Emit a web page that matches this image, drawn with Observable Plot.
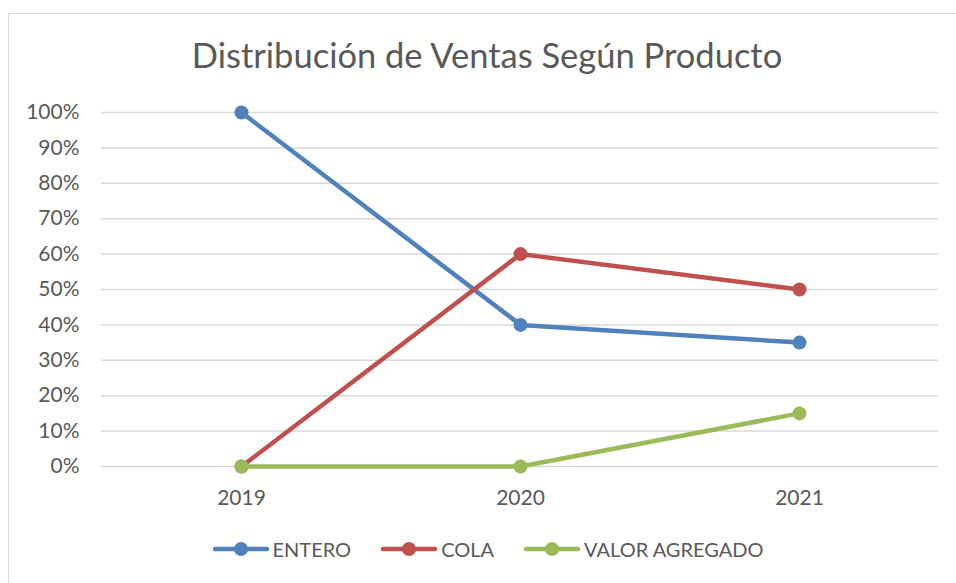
<!DOCTYPE html>
<html>
<head>
<meta charset="utf-8">
<script src="https://cdn.jsdelivr.net/npm/d3@7"></script>
<script src="https://cdn.jsdelivr.net/npm/@observablehq/plot@0.6"></script>
<style>
  html, body { margin: 0; padding: 0; background: #fff; overflow: hidden; }
  #wrap { position: relative; width: 956px; height: 583px; overflow: hidden; font-family: Lato, "Open Sans", sans-serif; color: #595959; }
  #border { position: absolute; left: 8px; top: 13px; width: 1200px; height: 1200px; border: 1.5px solid #d9d9d9; box-sizing: border-box; }
  #title { position: absolute; left: 0; width: 974px; top: 35px; text-align: center; font-size: 34.5px; line-height: 40px; white-space: nowrap; }
  #legend { position: absolute; top: 536px; left: 0; width: 976px; display: flex; justify-content: center; gap: 30px; font-size: 20px; line-height: 26px; }
  .item { display: flex; align-items: center; gap: 4px; }
  #chart { position: absolute; left: 0; top: 0; }
</style>
</head>
<body>
<div id="wrap">
  <div id="border"></div>
  <div id="chart"></div>
  <div id="title">Distribución de Ventas Según Producto</div>
  <div id="legend"></div>
</div>
<script>
const years = ["2019", "2020", "2021"];
const seriesNames = ["ENTERO", "COLA", "VALOR AGREGADO"];
const entero = [1.00, 0.40, 0.35];
const cola = [0.00, 0.60, 0.50];
const valorAgregado = [0.00, 0.00, 0.15];
const colors = ["#4f81bd", "#c0504d", "#9bbb59"];
const yTicks = [0, 0.1, 0.2, 0.3, 0.4, 0.5, 0.6, 0.7, 0.8, 0.9, 1.0];

const seriesValues = [entero, cola, valorAgregado];
const data = seriesNames.flatMap((s, i) => years.map((y, j) => ({series: s, year: y, value: seriesValues[i][j]})));

const marks = [
  Plot.gridY(yTicks, {stroke: "#d9d9d9", strokeOpacity: 1, strokeWidth: 1.5}),
  Plot.axisY(yTicks, {tickSize: 0, tickPadding: 22, tickFormat: d3.format(".0%"), fontSize: 21, fill: "#595959"}),
  Plot.axisX({tickSize: 0, tickPadding: 24, fontSize: 21, fill: "#595959"})
];
seriesNames.forEach((s, i) => {
  const d = data.filter(r => r.series === s);
  marks.push(Plot.line(d, {x: "year", y: "value", stroke: colors[i], strokeWidth: 4.5}));
  marks.push(Plot.dot(d, {x: "year", y: "value", fill: colors[i], r: 7}));
});

const chart = Plot.plot({
  width: 956,
  height: 583,
  marginTop: 112,
  marginBottom: 117,
  marginLeft: 101,
  marginRight: 18,
  style: {fontFamily: "Lato, 'Open Sans', sans-serif", background: "transparent", overflow: "visible"},
  x: {type: "point", domain: years, padding: 0.5, label: null},
  y: {domain: [0, 1], label: null},
  marks
});
document.getElementById("chart").appendChild(chart);

const legend = document.getElementById("legend");
seriesNames.forEach((s, i) => {
  const item = document.createElement("div");
  item.className = "item";
  item.innerHTML = `<svg width="56" height="16"><line x1="2" y1="8" x2="54" y2="8" stroke="${colors[i]}" stroke-width="4.5" stroke-linecap="round"/><circle cx="28" cy="8" r="7" fill="${colors[i]}"/></svg><span>${s}</span>`;
  legend.appendChild(item);
});
</script>
</body>
</html>
